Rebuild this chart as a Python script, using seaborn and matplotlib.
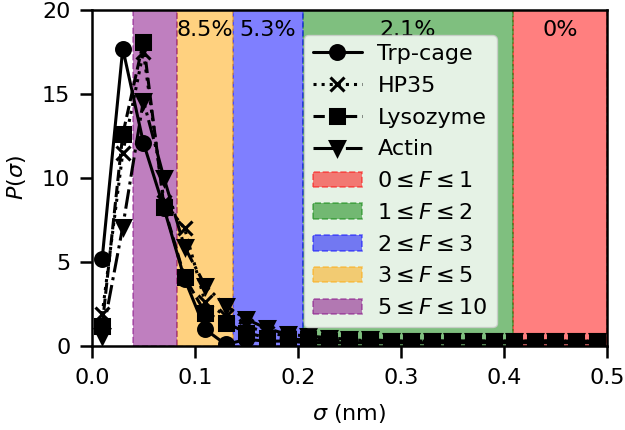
import numpy as np
import pandas as pd
import seaborn as sns
import matplotlib.pyplot as plt

# sigma bins (nm)
sigma = [0.01, 0.03, 0.05, 0.07, 0.09, 0.11, 0.13, 0.15, 0.17, 0.19,
         0.21, 0.23, 0.25, 0.27, 0.29, 0.31, 0.33, 0.35, 0.37, 0.39,
         0.41, 0.43, 0.45, 0.47, 0.49]

trp_cage = [5.2, 17.7, 12.1, 8.2, 4.0, 1.0, 0.1, 0.4, 0.3, 0.3,
            0.2, 0.2, 0.2, 0.2, 0.2, 0.2, 0.2, 0.2, 0.2, 0.2,
            0.2, 0.2, 0.2, 0.2, 0.2]
hp35 = [1.9, 11.5, 17.5, 8.6, 7.0, 2.6, 1.8, 1.2, 0.8, 0.6,
        0.5, 0.4, 0.4, 0.3, 0.3, 0.3, 0.3, 0.3, 0.3, 0.3,
        0.3, 0.3, 0.3, 0.3, 0.3]
lysozyme = [1.2, 12.6, 18.1, 8.3, 4.1, 2.0, 1.4, 0.8, 0.5, 0.4,
            0.4, 0.3, 0.3, 0.3, 0.3, 0.3, 0.3, 0.3, 0.3, 0.3,
            0.3, 0.3, 0.3, 0.3, 0.3]
actin = [0.6, 7.1, 14.6, 10.0, 5.9, 3.6, 2.4, 1.6, 1.05, 0.7,
         0.6, 0.5, 0.4, 0.4, 0.3, 0.3, 0.3, 0.3, 0.3, 0.3,
         0.3, 0.3, 0.3, 0.3, 0.3]

proteins = ["Trp-cage", "HP35", "Lysozyme", "Actin"]
series = [trp_cage, hp35, lysozyme, actin]
markers = ["o", "x", "s", "v"]
linestyles = ["-", ":", "--", "-."]

# F ranges shaded along sigma
span_labels = [r"$0 \leq F \leq 1$", r"$1 \leq F \leq 2$", r"$2 \leq F \leq 3$",
               r"$3 \leq F \leq 5$", r"$5 \leq F \leq 10$"]
span_lo = [0.409, 0.2045, 0.137, 0.0825, 0.04]
span_hi = [0.5, 0.409, 0.2045, 0.137, 0.0825]
span_colors = ["red", "green", "blue", "orange", "purple"]
span_pct = ["0%", "2.1%", "5.3%", "8.5%", ""]

sns.set_style("ticks")
plt.rcParams["font.family"] = ["DejaVu Sans"]
plt.rcParams["font.size"] = 16
for k in ["text.color", "axes.labelcolor", "xtick.color", "ytick.color", "axes.edgecolor"]:
    plt.rcParams[k] = "black"
plt.rcParams["axes.linewidth"] = 1.8
plt.rcParams["xtick.major.width"] = 1.8
plt.rcParams["ytick.major.width"] = 1.8
plt.rcParams["xtick.major.size"] = 8.5
plt.rcParams["ytick.major.size"] = 8.5
plt.rcParams["xtick.major.pad"] = 7
plt.rcParams["ytick.major.pad"] = 7

fig = plt.figure(figsize=(6.25, 4.3), dpi=100)
ax = fig.add_axes([0.147, 0.195, 0.824, 0.782])

df = pd.DataFrame({"sigma": sigma})
for name, vals, m, ls in zip(proteins, series, markers, linestyles):
    df[name] = vals
    sns.lineplot(data=df, x="sigma", y=name, ax=ax, color="k", marker=m,
                 linestyle=ls, lw=2.2, markersize=10, mew=2.2, mec="k",
                 label=name, zorder=3)

for lab, lo, hi, c, pct in zip(span_labels, span_lo, span_hi, span_colors, span_pct):
    ax.axvspan(lo, hi, color=c, alpha=0.5, ls="--", lw=1.2, label=lab, zorder=1)
    if pct:
        ax.text((lo + hi) / 2, 18.8, pct, ha="center", va="center", fontsize=16, zorder=4)

ax.set_xlim(0, 0.5)
ax.set_ylim(0, 20)
ax.set_xticks([0.0, 0.1, 0.2, 0.3, 0.4, 0.5])
ax.set_yticks([0, 5, 10, 15, 20])
ax.set_xlabel(r"$\sigma$ (nm)", fontsize=16, labelpad=10)
ax.set_ylabel(r"$P(\sigma)$", fontsize=16, labelpad=10)
ax.tick_params(labelsize=16)
for s in ax.spines.values():
    s.set_visible(True)

ax.legend(loc="upper left", bbox_to_anchor=(0.412, 0.925), fontsize=16,
          handlelength=2.2, borderaxespad=0, labelspacing=0.53,
          borderpad=0.4, handletextpad=0.7)

fig.savefig("out.png", dpi=100)
